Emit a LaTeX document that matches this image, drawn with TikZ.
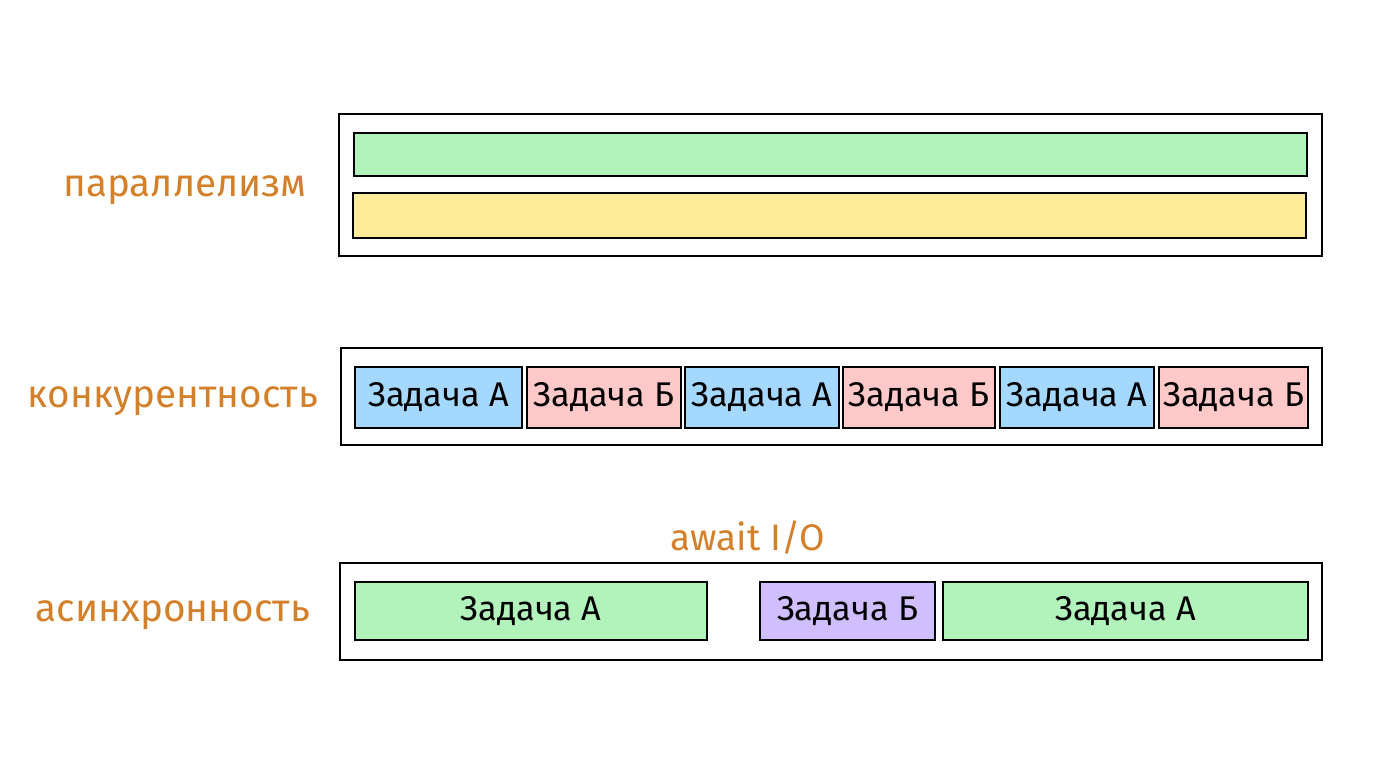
\documentclass[tikz,border=0pt]{standalone}
\usepackage{fontspec}
\setmainfont{Fira Sans}
\definecolor{labelorange}{HTML}{D4802A}
\definecolor{taskgreen}{HTML}{B2F2BB}
\definecolor{taskyellow}{HTML}{FFEC99}
\definecolor{taskblue}{HTML}{A5D8FF}
\definecolor{taskred}{HTML}{FFC9C9}
\definecolor{taskviolet}{HTML}{D0BFFF}
\tikzset{
  lane/.style={draw=black, line width=1.1pt, fill=white, inner sep=0pt},
  task/.style={draw=black, line width=0.9pt, inner sep=0pt, font=\fontsize{19.5}{23}\selectfont},
  rowlabel/.style={text=labelorange, font=\fontsize{22}{26}\selectfont},
}

\begin{document}
\begin{tikzpicture}[y=-1cm]
\useasboundingbox (0,0) rectangle (27.52,15.36);

% parallelism
\node[rowlabel] (parlabel) at (3.70,3.80) {параллелизм};
\node[lane, minimum width=19.66cm, minimum height=2.84cm] (parlane) at (16.61,3.70) {};
\node[task, fill=taskgreen, minimum width=19.06cm, minimum height=0.86cm] (partop) at (16.61,3.09) {};
\node[task, fill=taskyellow, minimum width=19.06cm, minimum height=0.90cm] (parbot) at (16.59,4.31) {};

% concurrency
\node[rowlabel] (conlabel) at (3.46,8.02) {конкурентность};
\node[lane, minimum width=19.62cm, minimum height=1.94cm] (conlane) at (16.63,7.93) {};
\node[task, fill=taskblue, minimum width=3.34cm, minimum height=1.22cm] (con1) at (8.77,7.95) {Задача А};
\node[task, fill=taskred, minimum width=3.08cm, minimum height=1.22cm] (con2) at (12.08,7.95) {Задача Б};
\node[task, fill=taskblue, minimum width=3.08cm, minimum height=1.22cm] (con3) at (15.24,7.95) {Задача А};
\node[task, fill=taskred, minimum width=3.04cm, minimum height=1.22cm] (con4) at (18.38,7.95) {Задача Б};
\node[task, fill=taskblue, minimum width=3.08cm, minimum height=1.22cm] (con5) at (21.54,7.95) {Задача А};
\node[task, fill=taskred, minimum width=2.98cm, minimum height=1.22cm] (con6) at (24.67,7.95) {Задача Б};

% asynchrony
\node[rowlabel] (asylabel) at (3.46,12.30) {асинхронность};
\node[rowlabel, font=\fontsize{21}{25}\selectfont] (await) at (14.96,10.76) {await I/O};
\node[lane, minimum width=19.64cm, minimum height=1.94cm] (asylane) at (16.62,12.23) {};
\node[task, fill=taskgreen, minimum width=7.04cm, minimum height=1.16cm] (asy1) at (10.62,12.22) {Задача А};
\node[task, fill=taskviolet, minimum width=3.50cm, minimum height=1.16cm] (asy2) at (16.95,12.22) {Задача Б};
\node[task, fill=taskgreen, minimum width=7.30cm, minimum height=1.16cm] (asy3) at (22.51,12.22) {Задача А};

\end{tikzpicture}
\end{document}
